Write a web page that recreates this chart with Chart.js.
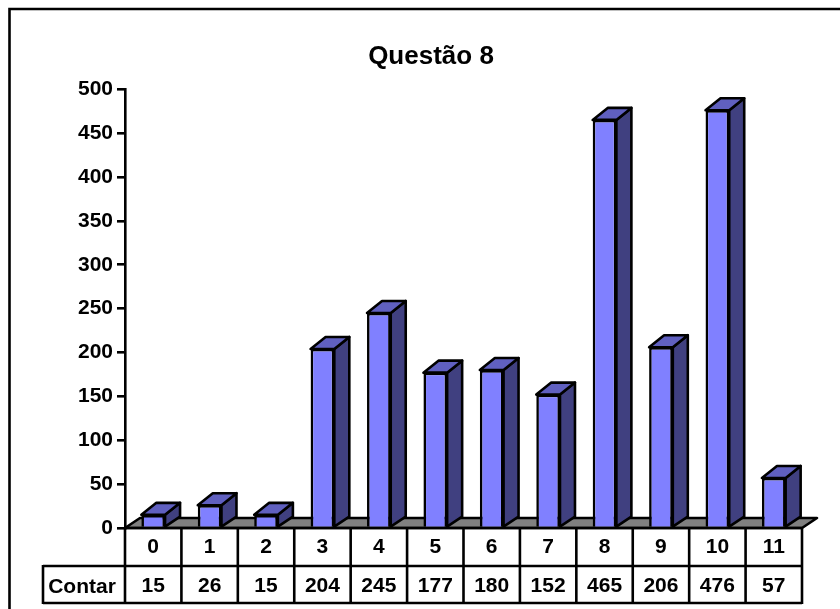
<!DOCTYPE html>
<html>
<head>
<meta charset="utf-8">
<style>
  html, body { margin: 0; padding: 0; background: #fff; overflow: hidden; }
  canvas { display: block; }
</style>
<script src="https://cdn.jsdelivr.net/npm/chart.js@4"></script>
</head>
<body>
<canvas id="myChart" width="840" height="609"></canvas>
<script>
const categories = ['0', '1', '2', '3', '4', '5', '6', '7', '8', '9', '10', '11'];
const counts = [15, 26, 15, 204, 245, 177, 180, 152, 465, 206, 476, 57];
const rowLabel = 'Contar';
const chartTitle = 'Questão 8';

const FONT = '"Liberation Sans", Arial, sans-serif';
const DEPTH_X = 15;
const DEPTH_Y = 10;
const TOP_DEPTH_Y = 12;
const LINE = 2.6;

// floor and the side/top faces of the bars, the front face comes from Chart.js
const depthPlugin = {
  id: 'depth',
  beforeDatasetsDraw(chart) {
    const c = chart.ctx;
    const x = chart.scales.x;
    const zero = chart.scales.y.getPixelForValue(0);
    c.save();
    c.lineWidth = LINE;
    c.strokeStyle = '#000';
    c.lineJoin = 'round';
    c.fillStyle = '#808080';
    c.beginPath();
    c.moveTo(x.left, zero);
    c.lineTo(x.right, zero);
    c.lineTo(x.right + DEPTH_X, zero - DEPTH_Y);
    c.lineTo(x.left + DEPTH_X, zero - DEPTH_Y);
    c.closePath();
    c.fill();
    c.stroke();
    chart.getDatasetMeta(0).data.forEach((bar) => {
      const l = bar.x - bar.width / 2;
      const r = bar.x + bar.width / 2;
      c.fillStyle = '#404080';
      c.beginPath();
      c.moveTo(r, bar.y);
      c.lineTo(r + DEPTH_X, bar.y - TOP_DEPTH_Y);
      c.lineTo(r + DEPTH_X, bar.base - DEPTH_Y);
      c.lineTo(r, bar.base);
      c.closePath();
      c.fill();
      c.stroke();
      c.fillStyle = '#6060C0';
      c.beginPath();
      c.moveTo(l, bar.y);
      c.lineTo(l + DEPTH_X, bar.y - TOP_DEPTH_Y);
      c.lineTo(r + DEPTH_X, bar.y - TOP_DEPTH_Y);
      c.lineTo(r, bar.y);
      c.closePath();
      c.fill();
      c.stroke();
    });
    c.restore();
  }
};

// data table under the axis plus the outer frame (only top and left show)
const tablePlugin = {
  id: 'dataTable',
  afterDraw(chart) {
    const c = chart.ctx;
    const x = chart.scales.x;
    const top = chart.scales.y.getPixelForValue(0);
    const mid = 566;
    const bottom = 603;
    const labelLeft = 43;
    const step = (x.right - x.left) / categories.length;
    c.save();
    c.strokeStyle = '#000';
    c.lineWidth = LINE;
    c.beginPath();
    c.moveTo(9.5, 609); c.lineTo(9.5, 9); c.lineTo(840, 9);
    c.moveTo(x.left, top); c.lineTo(x.right, top);
    c.moveTo(labelLeft, mid); c.lineTo(x.right, mid);
    c.moveTo(labelLeft, bottom); c.lineTo(x.right, bottom);
    c.moveTo(labelLeft, mid - 1); c.lineTo(labelLeft, bottom + 1);
    for (let i = 0; i <= categories.length; i++) {
      const px = x.left + i * step;
      c.moveTo(px, top); c.lineTo(px, bottom + 1);
    }
    c.stroke();
    c.fillStyle = '#000';
    c.font = 'bold 21px ' + FONT;
    c.textAlign = 'center';
    c.textBaseline = 'middle';
    categories.forEach((cat, i) => {
      const px = x.getPixelForValue(i);
      c.fillText(cat, px, (top + mid) / 2);
      c.fillText(String(counts[i]), px, (mid + bottom) / 2 + 2);
    });
    c.fillText(rowLabel, (labelLeft + x.left) / 2 - 2, (mid + bottom) / 2 + 3);
    c.restore();
  }
};

new Chart(document.getElementById('myChart'), {
  type: 'bar',
  data: {
    labels: categories,
    datasets: [{
      label: rowLabel,
      data: counts,
      backgroundColor: '#8080FF',
      borderColor: '#000',
      borderWidth: 2.6,
      barPercentage: 0.42,
      categoryPercentage: 1
    }]
  },
  options: {
    responsive: false,
    animation: false,
    layout: { padding: { left: 60, right: 38, top: 0, bottom: 81 } },
    plugins: {
      legend: { display: false },
      tooltip: { enabled: false },
      title: {
        display: true,
        text: chartTitle,
        color: '#000',
        font: { family: FONT, size: 26, weight: 'bold' },
        padding: { top: 41, bottom: 17 }
      }
    },
    scales: {
      x: {
        ticks: { display: false },
        grid: { display: false, drawTicks: false },
        border: { display: false },
        afterFit(scale) { scale.height = 0; }
      },
      y: {
        min: 0,
        max: 500,
        ticks: {
          stepSize: 50,
          color: '#000',
          padding: 4,
          font: { family: FONT, size: 21, weight: 'bold' }
        },
        grid: { drawOnChartArea: false, color: '#000', lineWidth: 2.6, tickLength: 8 },
        border: { color: '#000', width: 2.6 },
        afterFit(scale) { scale.width = 65; }
      }
    }
  },
  plugins: [depthPlugin, tablePlugin]
});
</script>
</body>
</html>
